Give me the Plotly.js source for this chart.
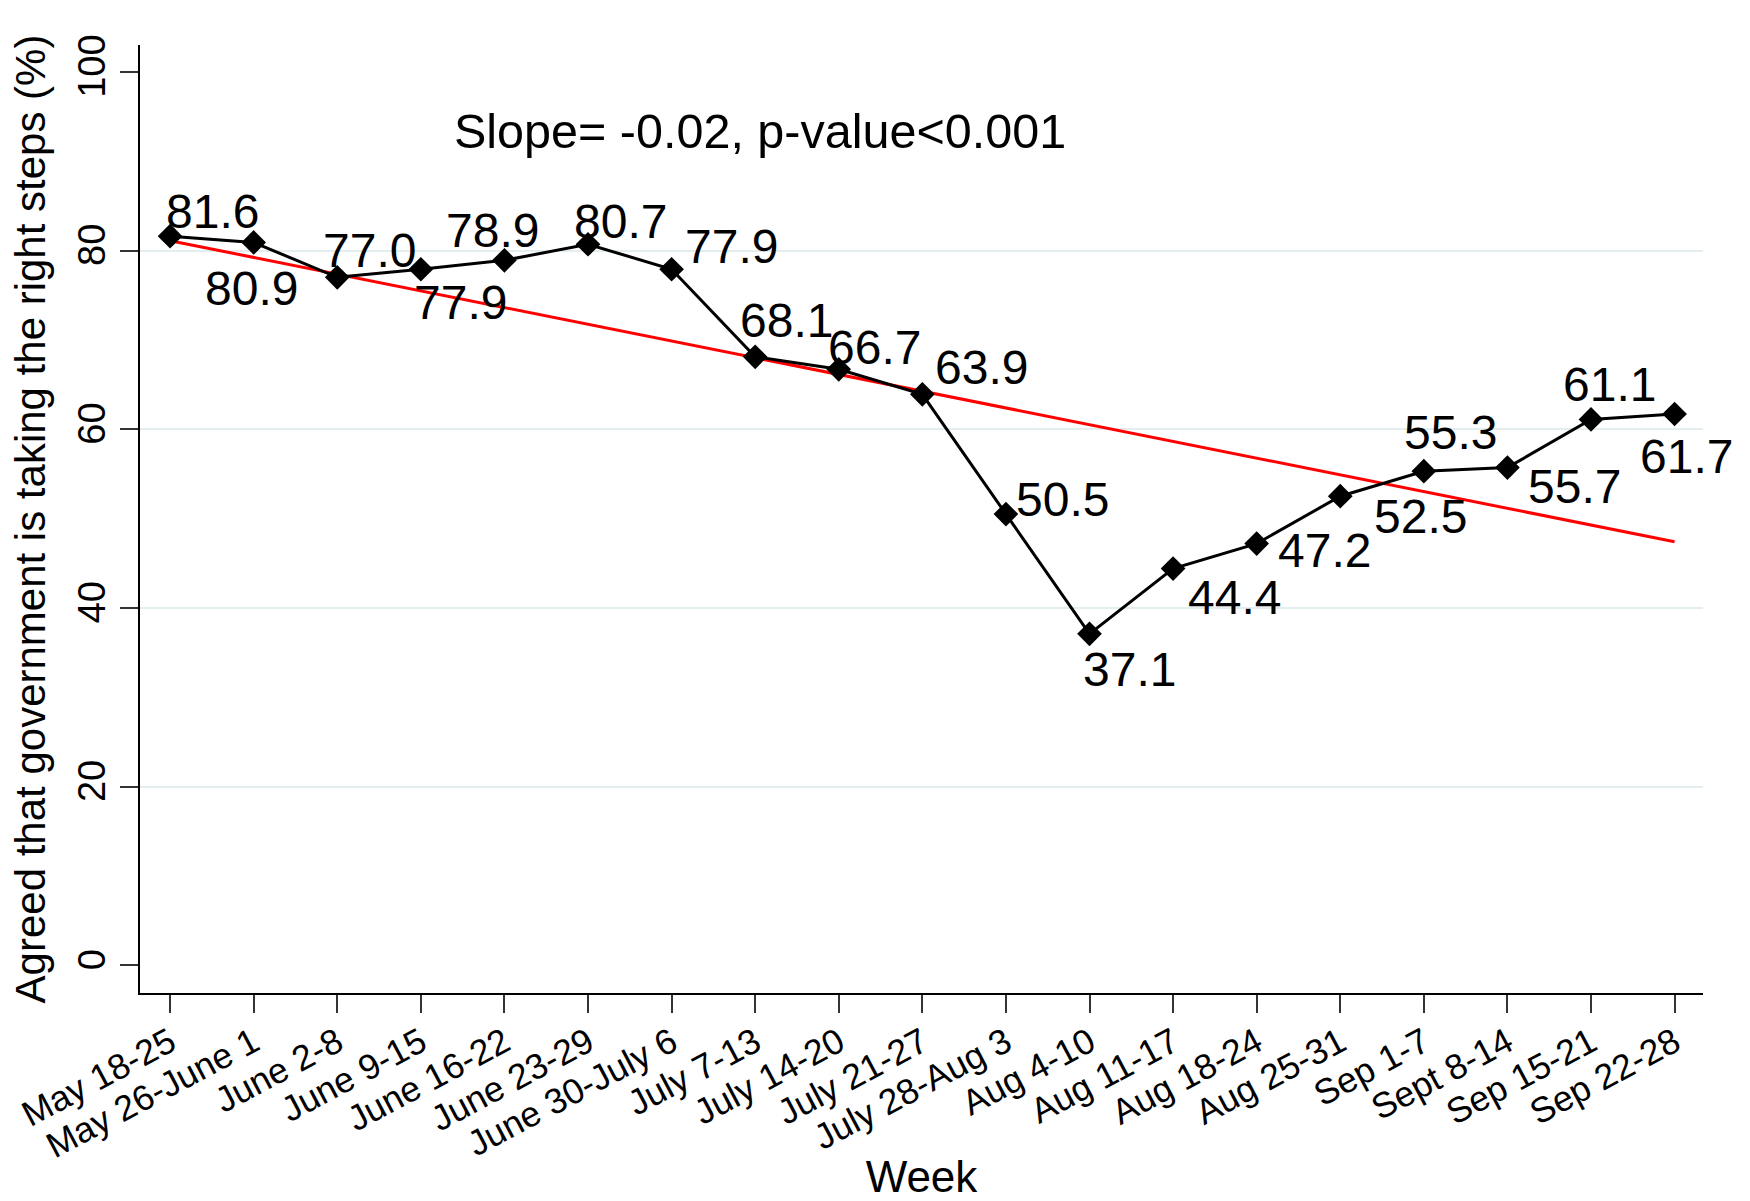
<!DOCTYPE html>
<html>
<head>
<meta charset="utf-8">
<script src="https://cdn.plot.ly/plotly-3.0.1.min.js"></script>
<style>html,body{margin:0;padding:0;background:#fff;}#chart{width:1750px;height:1201px;}</style>
</head>
<body>
<div id="chart"></div>
<script>
// ---- data ----
const weeks = ["May 18-25","May 26-June 1","June 2-8","June 9-15","June 16-22","June 23-29",
  "June 30-July 6","July 7-13","July 14-20","July 21-27","July 28-Aug 3","Aug 4-10",
  "Aug 11-17","Aug 18-24","Aug 25-31","Sep 1-7","Sept 8-14","Sep 15-21","Sep 22-28"];
const agreedPct = [81.6,80.9,77.0,77.9,78.9,80.7,77.9,68.1,66.7,63.9,50.5,37.1,44.4,47.2,52.5,55.3,55.7,61.1,61.7];
const fitEnds = [81.1, 47.4];           // fitted line at first and last week
const yTicks = [0,20,40,60,80,100];
const gridVals = [20,40,60,80];
const annotationText = "Slope= -0.02, p-value<0.001";

// label offsets (px) around each marker: [dx, dy]
const labelOffsets = [[42,25],[-2,-46],[32,27],[40,-33],[-12,30],[32,23],[60,23],[31,36],[36,22],[59,27],
  [57,15],[40,-36],[61,-29],[68,-7],[80,-20],[27,39],[67,-19],[18,35],[12,-42]];

const FONT = "Liberation Sans, Arial, sans-serif";
const idx = weeks.map((_, i) => i);

const traces = [
  {
    x: [idx[0], idx[idx.length-1]], y: fitEnds, type: "scatter", mode: "lines",
    line: {color: "#ff0000", width: 3}, hoverinfo: "skip", showlegend: false
  },
  {
    x: idx, y: agreedPct, type: "scatter", mode: "lines+markers",
    line: {color: "#000000", width: 3},
    marker: {symbol: "diamond", size: 19, color: "#000000"},
    showlegend: false
  },
  { x: [0], y: [null], yaxis: "y2", type: "scatter", mode: "markers", showlegend: false, hoverinfo: "skip" }
];

const annotations = agreedPct.map((v, i) => ({
  x: idx[i], y: v, xref: "x", yref: "y", text: v.toFixed(1), showarrow: false,
  xanchor: "center", yanchor: "middle",
  xshift: labelOffsets[i][0], yshift: labelOffsets[i][1],
  font: {family: FONT, size: 48, color: "#000"}
}));
annotations.push({
  x: 3.37, y: 93.4, xref: "x", yref: "y", text: annotationText, showarrow: false,
  xanchor: "left", yanchor: "middle", font: {family: FONT, size: 48.5, color: "#000"}
});

const yRange = [-3.1, 103.0];
const layout = {
  width: 1750, height: 1201,
  paper_bgcolor: "#ffffff", plot_bgcolor: "#ffffff",
  margin: {l: 140, r: 47, t: 45, b: 208},
  showlegend: false,
  xaxis: {
    range: [-0.36, 18.34], tickvals: idx, ticktext: weeks, tickangle: -28,
    ticks: "outside", ticklen: 18, tickwidth: 2, tickcolor: "#333",
    ticklabelstandoff: -5,
    showline: true, linecolor: "#000", linewidth: 2, showgrid: false, zeroline: false,
    tickfont: {family: FONT, size: 35.5, color: "#000"},
    title: {text: "Week", font: {family: FONT, size: 44, color: "#000"}, standoff: 12},
    automargin: false
  },
  yaxis: {
    range: yRange, tickvals: yTicks, tickangle: -90,
    ticks: "outside", ticklen: 18, tickwidth: 2, tickcolor: "#333",
    showline: true, linecolor: "#000", linewidth: 2, showgrid: false, zeroline: false,
    tickfont: {family: FONT, size: 38, color: "#000"},
    title: {text: "Agreed that government is taking the right steps (%)", font: {family: FONT, size: 42, color: "#000"}, standoff: 12},
    automargin: false
  },
  yaxis2: {
    overlaying: "y", range: yRange, tickvals: gridVals, showgrid: true, gridcolor: "#e4eef0", gridwidth: 2,
    showticklabels: false, ticks: "", showline: false, zeroline: false
  },
  annotations: annotations
};

Plotly.newPlot("chart", traces, layout, {staticPlot: true});
</script>
</body>
</html>
